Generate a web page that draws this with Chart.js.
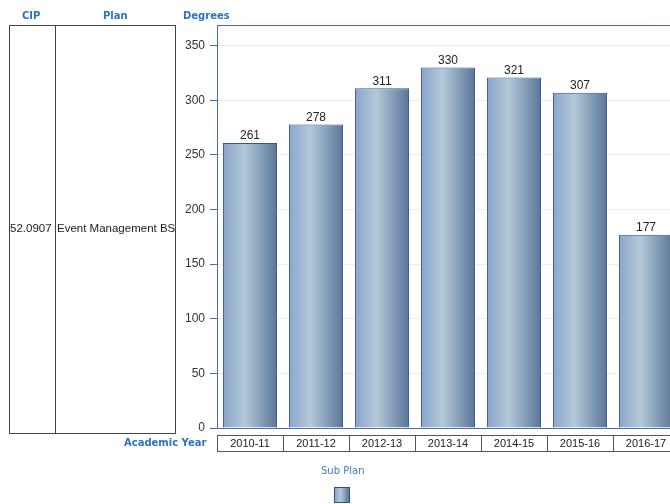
<!DOCTYPE html>
<html>
<head>
<meta charset="utf-8">
<script src="https://cdn.jsdelivr.net/npm/chart.js@4.4.1/dist/chart.umd.min.js"></script>
<style>
  html, body { margin: 0; padding: 0; background: #fff; overflow: hidden; width: 670px; height: 504px; }
  #wrap { position: relative; width: 670px; height: 504px; overflow: hidden; }
  #c { position: absolute; left: 0; top: 0; }
  .hdr { position: absolute; font-family: "DejaVu Sans", sans-serif; font-weight: bold; font-size: 10px; color: #2b72c0; white-space: nowrap; }
  .cell { position: absolute; font-family: "Liberation Sans", Arial, sans-serif; font-size: 11.5px; color: #222; white-space: nowrap; }
  #tbl { position: absolute; left: 9px; top: 25px; width: 167px; height: 409px; border: 1px solid #444; box-sizing: border-box; }
  #div1 { position: absolute; left: 55px; top: 25px; width: 1px; height: 409px; background: #444; }
  #legTitle { position: absolute; left: 321px; top: 465px; font-family: "DejaVu Sans", sans-serif; font-size: 10px; color: #3f7cc4; white-space: nowrap; }
  #legBox { position: absolute; left: 334px; top: 487px; width: 16px; height: 16px; box-sizing: border-box; border: 1px solid #2f4f8c;
    background: linear-gradient(to right, #8ea8cc 0%, #b4cad8 40%, #5a7598 100%); }
</style>
</head>
<body>
<div id="wrap">
  <canvas id="c" width="690" height="504" style="width:690px;height:504px"></canvas>
  <div id="tbl"></div>
  <div id="div1"></div>
  <div class="hdr" style="left:22px;top:10px;">CIP</div>
  <div class="hdr" style="left:103px;top:10px;">Plan</div>
  <div class="hdr" style="left:183px;top:10px;">Degrees</div>
  <div class="hdr" style="left:124px;top:437px;">Academic Year</div>
  <div class="cell" style="left:10px;top:222px;">52.0907</div>
  <div class="cell" style="left:57px;top:222px;">Event Management BS</div>
  <div id="legTitle">Sub Plan</div>
  <div id="legBox"></div>
</div>
<script>
const categories = ["2010-11", "2011-12", "2012-13", "2013-14", "2014-15", "2015-16", "2016-17"];
const degrees = [261, 278, 311, 330, 321, 307, 177];
const yTicks = [0, 50, 100, 150, 200, 250, 300, 350];

const BAR_PCT = 0.82;

function barGradient(ctx) {
  const chart = ctx.chart;
  const xs = chart.scales && chart.scales.x;
  if (!xs || !chart.chartArea || ctx.dataIndex === undefined) return '#8ea8cc';
  const cx = xs.getPixelForValue(ctx.dataIndex);
  const w = (xs.width / categories.length) * BAR_PCT;
  const g = chart.ctx.createLinearGradient(cx - w / 2, 0, cx + w / 2, 0);
  g.addColorStop(0, '#8aa5cb');
  g.addColorStop(0.4, '#b3c9d8');
  g.addColorStop(1, '#5a7598');
  return g;
}

const extras = {
  id: 'extras',
  afterDatasetsDraw(chart) {
    const ctx = chart.ctx;
    const meta = chart.getDatasetMeta(0);
    ctx.save();
    ctx.font = '12px "Liberation Sans", Arial, sans-serif';
    ctx.fillStyle = '#222';
    ctx.textAlign = 'center';
    ctx.textBaseline = 'bottom';
    meta.data.forEach((bar, i) => {
      ctx.fillText(String(degrees[i]), bar.x, bar.y - 1);
    });
    ctx.restore();
  },
  afterDraw(chart) {
    const ctx = chart.ctx;
    const a = chart.chartArea;
    const xs = chart.scales.x;
    ctx.save();
    ctx.strokeStyle = '#4a6cb3';
    ctx.lineWidth = 1;
    ctx.beginPath();
    ctx.moveTo(a.left, a.top + 0.5);
    ctx.lineTo(a.right, a.top + 0.5);
    ctx.stroke();
    ctx.strokeStyle = '#555';
    const step = xs.width / categories.length;
    const top = 435.5, bottom = 451.5;
    for (let i = 0; i < categories.length; i++) {
      const l = Math.round(xs.getPixelForValue(i) - step / 2) + 0.5;
      const r = Math.round(xs.getPixelForValue(i) + step / 2) + 0.5;
      ctx.strokeRect(l, top, r - l, bottom - top);
    }
    ctx.restore();
  }
};

new Chart(document.getElementById('c'), {
  type: 'bar',
  data: {
    labels: categories,
    datasets: [{
      label: 'Sub Plan',
      data: degrees,
      backgroundColor: barGradient,
      borderColor: '#35548f',
      borderWidth: 1,
      barPercentage: BAR_PCT,
      categoryPercentage: 1
    }]
  },
  options: {
    responsive: false,
    animation: false,
    devicePixelRatio: 1,
    layout: { padding: { top: 25, right: 11, left: 0, bottom: 0 } },
    plugins: { legend: { display: false }, tooltip: { enabled: false } },
    scales: {
      x: {
        afterFit: s => { s.height = 76; },
        grid: { display: false, drawTicks: false },
        border: { display: true, color: '#4a6cb3' },
        ticks: { color: '#222', font: { family: '"Liberation Sans", Arial, sans-serif', size: 11 }, padding: 9, maxRotation: 0, autoSkip: false }
      },
      y: {
        min: 0,
        max: 369,
        afterFit: s => { s.width = 217; },
        afterBuildTicks: s => { s.ticks = yTicks.map(v => ({ value: v })); },
        grid: { color: '#ececec', tickColor: '#4a6cb3', tickLength: 7 },
        border: { display: true, color: '#4a6cb3' },
        ticks: { color: '#333', font: { family: '"Liberation Sans", Arial, sans-serif', size: 12 }, padding: 5 }
      }
    }
  },
  plugins: [extras]
});
</script>
</body>
</html>
